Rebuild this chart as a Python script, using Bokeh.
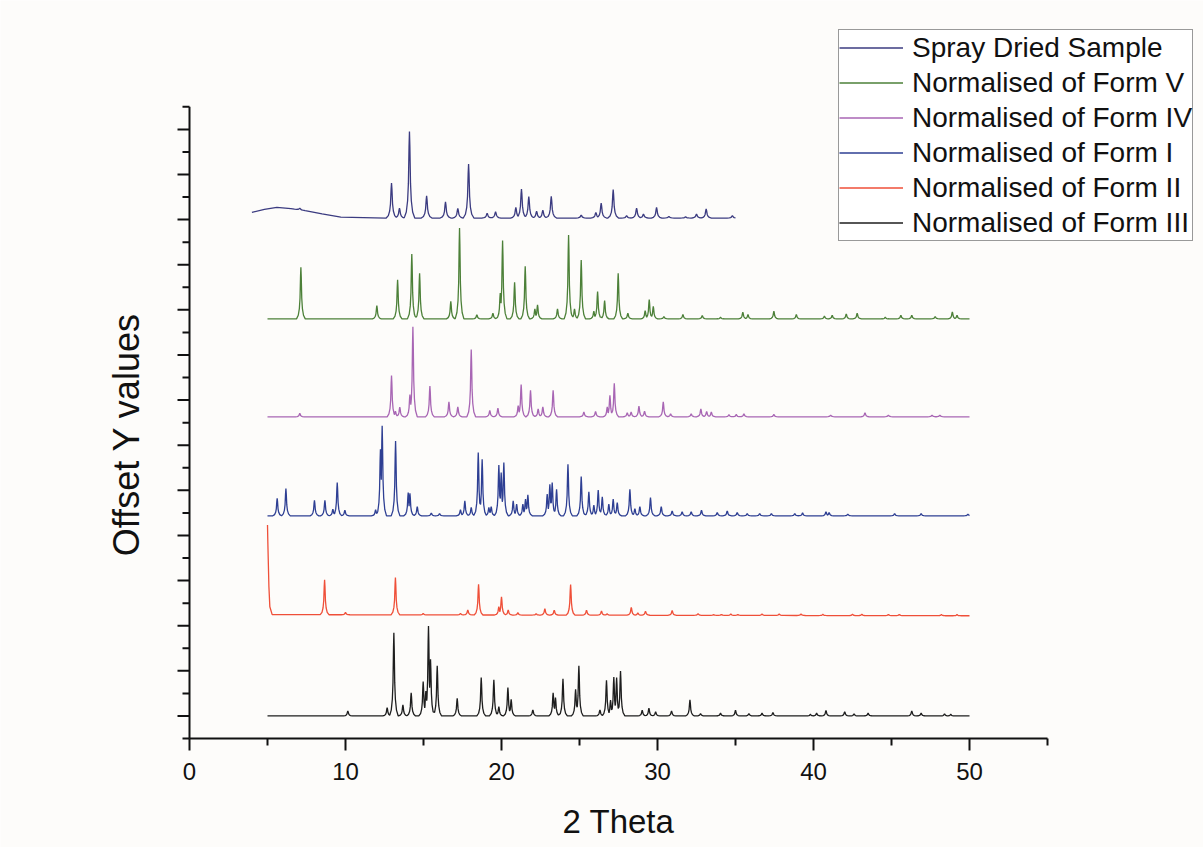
import numpy as np
from bokeh.plotting import figure
from bokeh.models import Range1d, Legend, LegendItem
from bokeh.core.properties import value
from bokeh.embed import file_html
from bokeh.resources import INLINE

# ---------------- data ----------------
# Peak positions (2 Theta, degrees) and apex heights (arbitrary units) per pattern,
# plus baseline vertices and vertical offsets as used in the stacked plot.

SERIES_NAMES = ["Spray Dried Sample", "Normalised of Form V", "Normalised of Form IV",
                "Normalised of Form I", "Normalised of Form II", "Normalised of Form III"]
SERIES_OFFSETS = [23.07, 18.60, 14.26, 9.87, 5.44, 1.00]
SERIES_RANGES = [(4.0, 35.0), (5.0, 50.0), (5.0, 50.0), (5.0, 50.0), (5.0, 50.0), (5.0, 50.0)]

SPRAY_POS = [7.07, 12.95, 13.46, 14.10, 15.20, 16.41, 17.20, 17.89, 19.08, 19.62, 20.92, 21.28,
             21.75, 22.25, 22.65, 23.19, 25.11, 26.05, 26.39, 27.16, 28.02, 28.66, 29.10, 29.94,
             30.73, 31.80, 32.50, 33.12, 34.80]
SPRAY_H = [0.07, 1.55, 0.44, 3.84, 0.99, 0.72, 0.43, 2.39, 0.21, 0.28, 0.47, 1.29,
           0.95, 0.30, 0.35, 0.96, 0.13, 0.25, 0.66, 1.26, 0.10, 0.44, 0.18, 0.47,
           0.07, 0.05, 0.18, 0.40, 0.10]
SPRAY_BASE_X = [4.0, 4.8, 5.6, 6.5, 7.5, 8.5, 9.7, 12.6, 35.0]
SPRAY_BASE_Y = [0.25, 0.38, 0.47, 0.42, 0.32, 0.18, 0.04, 0.0, 0.0]

FORM_V_POS = [7.14, 12.01, 13.34, 14.25, 14.75, 16.75, 17.31, 18.42, 19.45, 19.92, 20.07, 20.84,
              21.52, 22.14, 22.31, 23.59, 24.30, 24.68, 25.11, 25.92, 26.16, 26.61, 27.48, 28.10,
              29.21, 29.47, 29.73, 30.41, 31.63, 32.87, 34.04, 35.47, 35.80, 37.46, 38.90, 40.70,
              41.20, 42.10, 42.80, 44.60, 45.60, 46.30, 47.80, 48.90, 49.20]
FORM_V_H = [2.29, 0.59, 1.73, 2.88, 2.02, 0.78, 4.03, 0.18, 0.25, 1.14, 3.47, 1.62,
            2.33, 0.44, 0.62, 0.44, 3.72, 0.44, 2.61, 0.34, 1.21, 0.81, 2.02, 0.25,
            0.37, 0.86, 0.56, 0.10, 0.19, 0.15, 0.07, 0.30, 0.19, 0.34, 0.19, 0.12,
            0.16, 0.22, 0.25, 0.07, 0.16, 0.16, 0.10, 0.31, 0.16]
FORM_V_BASE_X = [5.0, 50.0]
FORM_V_BASE_Y = [0.0, 0.0]

FORM_IV_POS = [7.07, 12.95, 13.20, 13.48, 14.13, 14.32, 15.41, 16.63, 17.20, 18.06, 19.25, 19.77,
               21.07, 21.26, 21.86, 22.35, 22.65, 23.31, 25.28, 26.03, 26.78, 26.95, 27.23, 28.06,
               28.31, 28.81, 29.17, 30.37, 30.84, 32.16, 32.78, 33.15, 33.45, 34.58, 35.05, 35.54,
               37.46, 41.10, 43.30, 44.80, 47.60, 48.10]
FORM_IV_H = [0.15, 1.83, 0.25, 0.43, 0.99, 3.99, 1.36, 0.66, 0.44, 2.98, 0.28, 0.38,
             0.50, 1.43, 1.17, 0.35, 0.44, 1.18, 0.21, 0.24, 0.44, 0.95, 1.48, 0.18,
             0.21, 0.47, 0.25, 0.66, 0.13, 0.13, 0.35, 0.24, 0.21, 0.09, 0.10, 0.13,
             0.10, 0.07, 0.18, 0.07, 0.07, 0.07]
FORM_IV_BASE_X = [5.0, 50.0]
FORM_IV_BASE_Y = [0.0, 0.0]

FORM_I_POS = [5.62, 6.18, 8.01, 8.68, 9.19, 9.47, 9.96, 11.93, 12.24, 12.35, 13.21, 14.02,
              14.13, 14.60, 15.50, 16.03, 17.37, 17.65, 18.06, 18.51, 18.76, 19.19, 19.34, 19.83,
              19.98, 20.15, 20.75, 20.97, 21.37, 21.54, 21.69, 22.93, 23.10, 23.25, 23.53, 24.26,
              25.11, 25.60, 25.92, 26.20, 26.46, 26.88, 27.16, 27.42, 28.23, 28.55, 28.87, 29.55,
              30.24, 30.94, 31.58, 32.16, 32.82, 33.83, 34.47, 35.11, 35.75, 36.55, 37.30, 38.80,
              39.30, 40.80, 41.00, 42.20, 45.20, 46.90, 49.90]
FORM_I_H = [0.78, 1.21, 0.69, 0.69, 0.30, 1.48, 0.25, 0.27, 2.95, 3.99, 3.32, 1.03,
            1.00, 0.41, 0.12, 0.10, 0.27, 0.66, 0.37, 2.81, 2.51, 0.37, 0.41, 2.25,
            1.92, 2.36, 0.66, 0.52, 0.52, 0.74, 0.93, 0.96, 1.40, 1.48, 1.18, 2.29,
            1.74, 1.06, 0.47, 1.14, 0.84, 0.52, 0.74, 0.59, 1.18, 0.32, 0.41, 0.81,
            0.41, 0.22, 0.18, 0.18, 0.25, 0.15, 0.22, 0.15, 0.10, 0.10, 0.10, 0.10,
            0.13, 0.18, 0.15, 0.07, 0.10, 0.10, 0.07]
FORM_I_BASE_X = [5.0, 50.0]
FORM_I_BASE_Y = [0.0, 0.0]

FORM_II_POS = [8.66, 10.00, 13.20, 14.98, 17.37, 17.84, 18.53, 19.83, 20.00, 20.43, 21.05, 22.22,
               22.78, 23.38, 24.43, 25.45, 26.41, 26.77, 28.32, 28.74, 29.23, 30.94, 32.60, 33.60,
               34.10, 34.70, 35.15, 36.70, 37.80, 39.20, 40.60, 42.50, 43.10, 44.80, 45.50, 48.20,
               49.20]
FORM_II_H = [1.55, 0.10, 1.65, 0.06, 0.06, 0.22, 1.36, 0.37, 0.81, 0.22, 0.10, 0.06,
             0.28, 0.22, 1.36, 0.22, 0.18, 0.06, 0.35, 0.10, 0.18, 0.21, 0.07, 0.03,
             0.04, 0.06, 0.04, 0.06, 0.06, 0.06, 0.05, 0.06, 0.06, 0.05, 0.05, 0.05,
             0.05]
FORM_II_BASE_X = [5.0, 5.02, 5.09, 5.15, 5.3, 50.0]
FORM_II_BASE_Y = [4.02, 3.3, 1.3, 0.4, 0.05, 0.0]

FORM_III_POS = [10.15, 12.67, 13.10, 13.68, 14.21, 14.98, 15.15, 15.32, 15.45, 15.88, 17.16, 18.70,
                19.51, 19.83, 20.41, 20.62, 22.01, 23.31, 23.46, 23.94, 24.75, 24.96, 26.31, 26.73,
                26.99, 27.20, 27.38, 27.63, 29.02, 29.45, 29.88, 30.90, 32.08, 32.76, 34.04, 35.00,
                35.86, 36.70, 37.40, 39.80, 40.20, 40.80, 42.00, 42.60, 43.50, 46.30, 46.90, 48.40,
                48.80]
FORM_III_H = [0.22, 0.37, 3.69, 0.49, 1.03, 1.52, 1.10, 3.99, 2.51, 2.22, 0.78, 1.70,
              1.60, 0.41, 1.26, 0.74, 0.27, 1.03, 0.81, 1.65, 1.18, 2.22, 0.27, 1.58,
              0.70, 1.73, 1.70, 1.99, 0.25, 0.34, 0.18, 0.22, 0.71, 0.10, 0.12, 0.25,
              0.10, 0.12, 0.15, 0.07, 0.12, 0.24, 0.19, 0.09, 0.12, 0.22, 0.12, 0.09,
              0.07]
FORM_III_BASE_X = [5.0, 50.0]
FORM_III_BASE_Y = [0.0, 0.0]

X_AXIS_MAX = 55
Y_AXIS_MAX = 28
X_TICKS = [0, 10, 20, 30, 40, 50]
X_TICK_LABELS = ["0", "10", "20", "30", "40", "50"]
X_MINOR = [5, 15, 25, 35, 45, 55]
Y_TICKS = list(range(1, 28, 2))
Y_MINOR = list(range(0, 29, 2))
X_LABEL = "2 Theta"
Y_LABEL = "Offset Y values"

# ---------------- styling ----------------
W, H = 1203, 847
LEFT_PX, BOTTOM_PX = 189, 738          # where the axes cross, in canvas pixels
SX, SY = 15.6, 22.56                    # pixels per data unit
COLORS = ["#3b3b80", "#4c8038", "#a866b4", "#2e3f93", "#ef4f38", "#1e1e1e"]
WIDTHS = [0.34, 0.28, 0.28, 0.28, 0.28, 0.28]   # peak foot half-width (drawing style)
BG = "#fdfcfa"
INK = "#111111"
FONT = "Liberation Sans"

# peak shape template (drawing style): relative offset -> relative height
SHAPE_D = np.array([-1.0, -0.6, -0.35, -0.2, -0.08, 0.0, 0.08, 0.2, 0.35, 0.6, 1.0])
SHAPE_R = np.array([0.0, 0.07, 0.2, 0.4, 0.82, 1.0, 0.82, 0.4, 0.2, 0.07, 0.0])


def trace(pos, hts, bx, by, rng, w, offset):
    start, end = rng
    xs = set([start, end]) | set(bx)
    for p in pos:
        for d in SHAPE_D:
            xs.add(p + d * w)
    xs = np.array(sorted(x for x in xs if start <= x <= end))
    peak = np.zeros_like(xs)
    for p, h in zip(pos, hts):
        peak = np.maximum(peak, h * np.interp((xs - p) / w, SHAPE_D, SHAPE_R, left=0, right=0))
    ys = offset + np.interp(xs, bx, by) + peak
    return xs, ys


SERIES = [
    (SPRAY_POS, SPRAY_H, SPRAY_BASE_X, SPRAY_BASE_Y),
    (FORM_V_POS, FORM_V_H, FORM_V_BASE_X, FORM_V_BASE_Y),
    (FORM_IV_POS, FORM_IV_H, FORM_IV_BASE_X, FORM_IV_BASE_Y),
    (FORM_I_POS, FORM_I_H, FORM_I_BASE_X, FORM_I_BASE_Y),
    (FORM_II_POS, FORM_II_H, FORM_II_BASE_X, FORM_II_BASE_Y),
    (FORM_III_POS, FORM_III_H, FORM_III_BASE_X, FORM_III_BASE_Y),
]

x0 = -LEFT_PX / SX
x1 = (W - LEFT_PX) / SX
y0 = -(H - BOTTOM_PX) / SY
y1 = BOTTOM_PX / SY

p = figure(width=W, height=H, x_range=Range1d(x0, x1), y_range=Range1d(y0, y1),
           output_backend="svg", toolbar_location=None,
           x_axis_location=None, y_axis_location=None,
           min_border=0, min_border_left=0, min_border_right=0, min_border_top=0, min_border_bottom=0,
           background_fill_color=BG, border_fill_color=BG, outline_line_color=None)
p.grid.visible = False

items = []
for name, off, rng, (pos, hts, bx, by), col, w in zip(SERIES_NAMES, SERIES_OFFSETS, SERIES_RANGES,
                                                       SERIES, COLORS, WIDTHS):
    xs, ys = trace(pos, hts, bx, by, rng, w, off)
    r = p.line(xs, ys, line_color=col, line_width=1.3)
    items.append(LegendItem(label=name, renderers=[r]))

# ---- axes drawn in data coordinates ----
MAJ, MIN = 12, 7   # tick lengths in px
p.segment(x0=[0, 0], y0=[0, 0], x1=[X_AXIS_MAX, 0], y1=[0, Y_AXIS_MAX],
          line_color=INK, line_width=2)
p.segment(x0=X_TICKS, y0=[0] * len(X_TICKS), x1=X_TICKS, y1=[-MAJ / SY] * len(X_TICKS),
          line_color=INK, line_width=2)
p.segment(x0=X_MINOR, y0=[0] * len(X_MINOR), x1=X_MINOR, y1=[-MIN / SY] * len(X_MINOR),
          line_color=INK, line_width=2)
p.segment(x0=[0] * len(Y_TICKS), y0=Y_TICKS, x1=[-MAJ / SX] * len(Y_TICKS), y1=Y_TICKS,
          line_color=INK, line_width=2)
p.segment(x0=[0] * len(Y_MINOR), y0=Y_MINOR, x1=[-MIN / SX] * len(Y_MINOR), y1=Y_MINOR,
          line_color=INK, line_width=2)

p.text(x=X_TICKS, y=[-33 / SY] * len(X_TICKS), text=X_TICK_LABELS,
       text_align="center", text_baseline="middle", text_color=INK,
       text_font=value(FONT), text_font_size=value("24px"))
p.text(x=[X_AXIS_MAX / 2], y=[-83 / SY], text=[X_LABEL],
       text_align="center", text_baseline="middle", text_color=INK,
       text_font=value(FONT), text_font_size=value("33px"))
p.text(x=[-63 / SX], y=[(BOTTOM_PX - 434) / SY], text=[Y_LABEL], angle=np.pi / 2,
       text_align="center", text_baseline="middle", text_color=INK,
       text_font=value(FONT), text_font_size=value("36px"))

# ---- legend (top-right box) ----
LEG_LEFT, LEG_TOP, ROW = 838, 31, 35
legend = Legend(items=items, location=(LEG_LEFT, H - LEG_TOP - ROW * len(items)),
                padding=0, spacing=0, margin=0,
                glyph_width=64, glyph_height=ROW, label_height=ROW, label_standoff=9,
                label_text_font=FONT, label_text_font_size="28px", label_text_color=INK,
                border_line_color="#333333", border_line_width=1,
                background_fill_color="#ffffff", background_fill_alpha=1.0)
p.add_layout(legend)

open("out.html", "w").write(file_html(p, INLINE))
